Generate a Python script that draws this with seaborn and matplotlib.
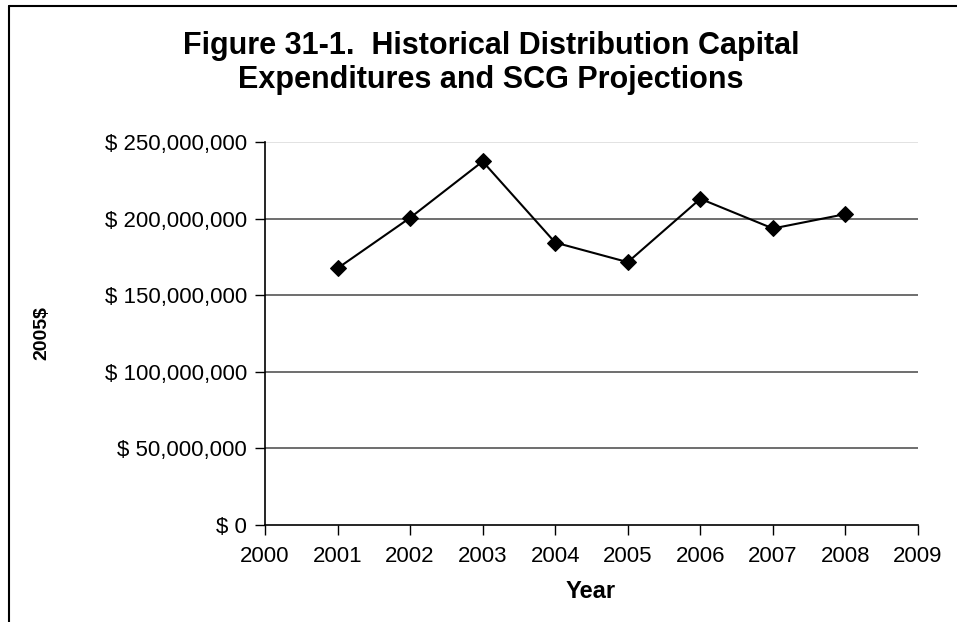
import matplotlib
matplotlib.use("Agg")
import matplotlib.pyplot as plt
import seaborn as sns
import pandas as pd
from matplotlib.ticker import FuncFormatter, MultipleLocator
from matplotlib.lines import Line2D

years = [2001, 2002, 2003, 2004, 2005, 2006, 2007, 2008]
spend = [167_500_000, 200_500_000, 237_300_000, 184_300_000, 171_500_000,
         212_900_000, 193_500_000, 202_900_000]
xticks = list(range(2000, 2010))
title = "Figure 31-1.  Historical Distribution Capital\nExpenditures and SCG Projections"

sns.set_theme(style="white")
plt.rcParams['font.family'] = ['Liberation Sans', 'DejaVu Sans']
plt.rcParams['text.color'] = 'black'

fig = plt.figure(figsize=(9.57, 6.22), dpi=100)
W, H = 957, 622
ax = fig.add_axes([265 / W, 1 - 524.7 / H, (918 - 265) / W, (524.7 - 142) / H])

df = pd.DataFrame({"Year": years, "Spend": spend})
sns.lineplot(data=df, x="Year", y="Spend", ax=ax, color="black", marker="D",
             markersize=8, markeredgecolor="black", linewidth=1.5)

ax.set_xlim(2000, 2009)
ax.set_ylim(0, 250_000_000)
ax.set_xticks(xticks)
ax.set_xticklabels([str(t) for t in xticks])
ax.yaxis.set_major_locator(MultipleLocator(50_000_000))
ax.yaxis.set_major_formatter(FuncFormatter(lambda v, p: "$ {:,.0f}".format(v)))

for v in range(50_000_000, 250_000_001, 50_000_000):
    ax.axhline(v, color="#dddddd" if v == 250_000_000 else "#555555",
               linewidth=1.2, zorder=0)

for s in ["top", "right"]:
    ax.spines[s].set_visible(False)
for s in ["left", "bottom"]:
    ax.spines[s].set_color("black")
    ax.spines[s].set_linewidth(1.2)

ax.tick_params(axis="both", which="major", direction="out", length=7, width=1,
               color="black", labelsize=16, labelcolor="black", bottom=True, left=True)
ax.tick_params(axis="x", pad=8)
ax.tick_params(axis="y", pad=6)

ax.set_xlabel("")
ax.set_ylabel("")
fig.text(591 / W, 1 - 591 / H, "Year", ha="center", va="center", fontsize=17,
         fontweight="bold", color="black")
fig.text(42 / W, 1 - 333 / H, "2005$", rotation=90, fontsize=14, fontweight="bold",
         ha="center", va="center", color="black")

fig.text(491 / W, 1 - 63 / H, title, ha="center", va="center", fontsize=22,
         fontweight="bold", linespacing=1.2, color="black")

# outer chart border (left and top edges visible)
fig.add_artist(Line2D([8.5 / W, 8.5 / W], [0, 1 - 6 / H], transform=fig.transFigure,
                      color="black", linewidth=1.5))
fig.add_artist(Line2D([8.5 / W, 1], [1 - 6 / H, 1 - 6 / H], transform=fig.transFigure,
                      color="black", linewidth=1.5))

fig.savefig("out.png", dpi=100)
